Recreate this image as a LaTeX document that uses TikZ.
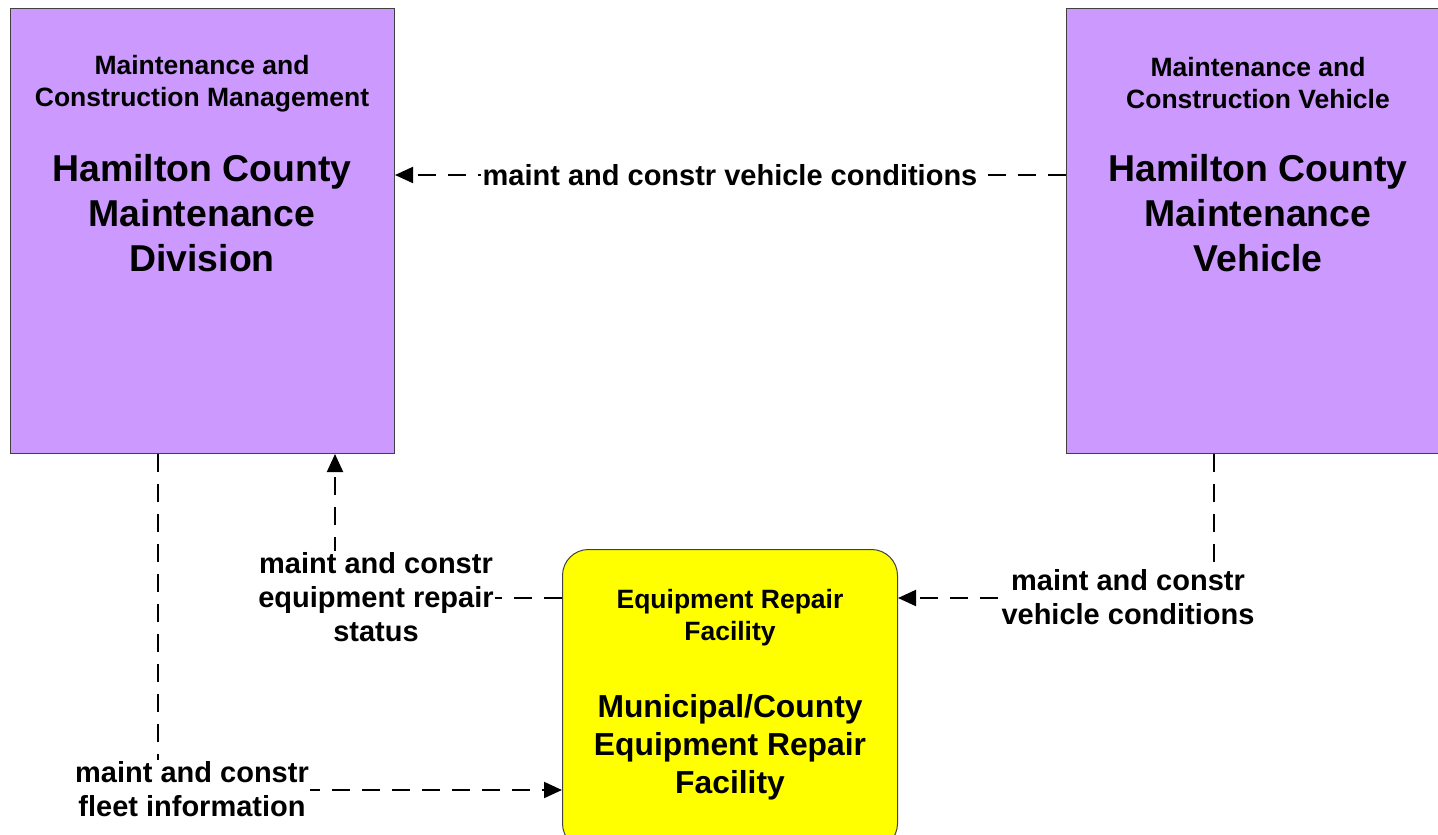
\documentclass[tikz,border=0pt]{standalone}
\usepackage{fontspec}
\setmainfont{Liberation Sans}
\usetikzlibrary{arrows.meta}
\definecolor{boxpurple}{HTML}{CC99FF}
\definecolor{boxyellow}{HTML}{FFFF00}
\definecolor{boxedge}{HTML}{404040}
\tikzset{
  pbox/.style={draw=boxedge, line width=1pt, fill=boxpurple, anchor=north west, inner sep=0pt},
  ybox/.style={draw=boxedge, line width=1pt, fill=boxyellow, anchor=north west, inner sep=0pt, rounded corners=26pt},
  smalltitle/.style={font=\bfseries\fontsize{26.5}{32}\selectfont, align=center, inner sep=0pt},
  bigtitle/.style={font=\bfseries\fontsize{37.4}{45}\selectfont, align=center, inner sep=0pt},
  ybigtitle/.style={font=\bfseries\fontsize{31.8}{38}\selectfont, align=center, inner sep=0pt},
  flowlabel/.style={font=\bfseries\fontsize{29}{34}\selectfont, align=center, fill=white, inner sep=1.5pt},
  flow/.style={line width=2pt, dash pattern=on 18pt off 12pt, -{Triangle[length=18pt,width=16pt]}}
}
\begin{document}
\begin{tikzpicture}[x=1pt,y=-1pt]
\useasboundingbox (0,0) rectangle (1438,835);
% boxes
\node[pbox, minimum width=384pt, minimum height=445pt] (lb) at (10,8) {};
\node[pbox, minimum width=380pt, minimum height=445pt] (rb) at (1066,8) {};
\node[ybox, minimum width=335pt, minimum height=300pt] (yb) at (562,549) {};
% box texts
\node[smalltitle] (lbs) at (202,84) {Maintenance and\\Construction Management};
\node[bigtitle] (lbb) at (202,213) {Hamilton County\\Maintenance\\Division};
\node[smalltitle] (rbs) at (1258,83) {Maintenance and\\Construction Vehicle};
\node[bigtitle] (rbb) at (1258,213) {Hamilton County\\Maintenance\\Vehicle};
\node[smalltitle] (ybs) at (730,618) {Equipment Repair\\Facility};
\node[ybigtitle] (ybb) at (730,747) {Municipal/County\\Equipment Repair\\Facility};
% helper coordinates
\coordinate (r1) at (0,175);
\coordinate (r2) at (0,598);
\coordinate (r4) at (0,790);
\coordinate (c2) at (1214,0);
\coordinate (c3) at (335,0);
\coordinate (c4) at (158,0);
% connectors
\draw[flow] (rb.west|-r1) -- (lb.east|-r1);
\draw[flow] (rb.south-|c2) -- (c2|-r2) -- (yb.east|-r2);
\draw[flow] (yb.west|-r2) -- (c3|-r2) -- (lb.south-|c3);
\draw[flow] (lb.south-|c4) -- (c4|-r4) -- (yb.west|-r4);
% labels
\node[flowlabel] (l1) at (730,175) {maint and constr vehicle conditions};
\node[flowlabel] (l2) at (1128,597) {maint and constr\\vehicle conditions};
\node[flowlabel] (l3) at (376,597) {maint and constr\\equipment repair\\status};
\node[flowlabel] (l4) at (192,789) {maint and constr\\fleet information};
\end{tikzpicture}
\end{document}
